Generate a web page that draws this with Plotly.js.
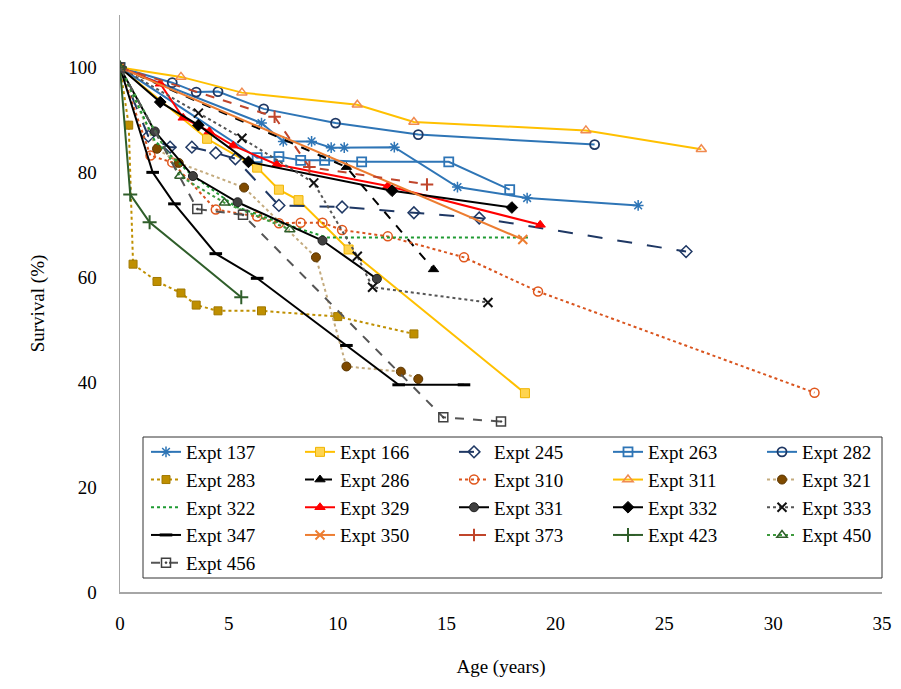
<!DOCTYPE html>
<html>
<head>
<meta charset="utf-8">
<script src="https://cdn.plot.ly/plotly-3.0.1.min.js"></script>
<style>html,body{margin:0;padding:0;background:#fff;}#chart{width:901px;height:689px;}</style>
</head>
<body>
<div id="chart"></div>
<script>
// Series data (Age in years, Survival in %)
const names = ["Expt 137","Expt 166","Expt 245","Expt 263","Expt 282","Expt 283","Expt 286","Expt 310","Expt 311","Expt 321","Expt 322","Expt 329","Expt 331","Expt 332","Expt 333","Expt 347","Expt 350","Expt 373","Expt 423","Expt 450","Expt 456"];

const x137 = [0, 6.5, 7.5, 8.8, 9.7, 10.3, 12.6, 15.5, 18.7, 23.8];
const y137 = [100, 89.4, 85.9, 85.9, 84.7, 84.7, 84.8, 77.2, 75.1, 73.7];
const x166 = [0, 4.0, 6.3, 7.3, 8.2, 10.5, 18.6];
const y166 = [100, 86.4, 80.9, 76.7, 74.7, 65.3, 37.9];
const x245 = [0, 1.3, 2.3, 3.3, 4.4, 5.3, 7.3, 10.2, 13.5, 16.5, 26.0];
const y245 = [100, 86.9, 84.8, 84.8, 83.7, 82.6, 73.7, 73.4, 72.3, 71.3, 64.9];
const x263 = [0, 6.3, 7.3, 8.3, 9.4, 11.1, 15.1, 17.9];
const y263 = [100, 82.8, 83.0, 82.3, 82.3, 82.0, 82.0, 76.7];
const x282 = [0, 2.4, 3.5, 4.5, 6.6, 9.9, 13.7, 21.8];
const y282 = [100, 97.1, 95.3, 95.4, 92.1, 89.4, 87.2, 85.3];
const x283 = [0, 0.4, 0.6, 1.7, 2.8, 3.5, 4.5, 6.5, 10.0, 13.5];
const y283 = [100, 89, 62.5, 59.2, 57.0, 54.7, 53.6, 53.6, 52.5, 49.2];
const x286 = [0, 10.4, 14.4];
const y286 = [100, 81.0, 61.5];
const x310 = [0, 1.4, 2.4, 4.4, 6.3, 7.3, 8.3, 9.3, 10.2, 12.3, 15.8, 19.2, 31.9];
const y310 = [100, 83.2, 81.9, 72.9, 71.6, 70.3, 70.4, 70.4, 69.0, 67.8, 63.8, 57.3, 38.0];
const x311 = [0, 2.8, 5.6, 10.9, 13.5, 21.4, 26.7];
const y311 = [100, 98.2, 95.2, 92.9, 89.6, 88.0, 84.4];
const x321 = [0, 1.7, 2.7, 5.7, 9.0, 10.4, 12.9, 13.7];
const y321 = [100, 84.5, 81.8, 77.1, 63.8, 43.0, 42.0, 40.6];
const x322 = [0, 1.6, 3.3, 5.3, 7.3, 9.5, 18.8];
const y322 = [100, 86, 79.5, 73.5, 70.5, 67.6, 67.6];
const x329 = [0, 1.85, 2.9, 4.1, 5.2, 7.2, 12.3, 19.3];
const y329 = [100, 96.9, 90.4, 87.8, 85.1, 81.5, 77.4, 70.0];
const x331 = [0, 1.6, 3.35, 5.4, 9.3, 11.8];
const y331 = [100, 87.8, 79.3, 74.3, 67.0, 59.7];
const x332 = [0, 1.85, 3.6, 5.9, 12.5, 18.0];
const y332 = [100, 93.4, 89.0, 82.0, 76.5, 73.3];
const x333 = [0, 3.6, 5.6, 8.9, 10.9, 11.6, 16.9];
const y333 = [100, 91.3, 86.5, 78.0, 64.0, 58.1, 55.2];
const x347 = [0, 1.5, 2.5, 4.4, 6.3, 10.4, 12.8, 15.8];
const y347 = [100, 80.0, 74.0, 64.5, 59.8, 47.0, 39.5, 39.5];
const x350 = [0, 18.5];
const y350 = [100, 67.2];
const x373 = [0, 7.1, 8.7, 14.1];
const y373 = [100, 90.6, 81.0, 77.7];
const x423 = [0, 0.47, 1.36, 5.57];
const y423 = [100, 75.8, 70.5, 56.2];
const x450 = [0, 2.75, 4.8, 7.8];
const y450 = [100, 79.3, 74.2, 69.1];
const x456 = [0, 3.55, 5.65, 14.85, 17.5];
const y456 = [100, 73.0, 71.9, 33.3, 32.5];

const xTicks = [0, 5, 10, 15, 20, 25, 30, 35];
const yTicks = [0, 20, 40, 60, 80, 100];

const xs = [x137,x166,x245,x263,x282,x283,x286,x310,x311,x321,x322,x329,x331,x332,x333,x347,x350,x373,x423,x450,x456];
const ys = [y137,y166,y245,y263,y282,y283,y286,y310,y311,y321,y322,y329,y331,y332,y333,y347,y350,y373,y423,y450,y456];

// styles: [lineColor, dash, symbol, markerColor, markerLineColor, size, markerLineWidth]
const styles = [
  ['#2E75B6','solid','asterisk-open','#2E75B6','#2E75B6',9,1.5],
  ['#FFC000','solid','square','#FFD44F','#F0B400',9,1],
  ['#1F3864','longdash','diamond-open','#1F3864','#1F3864',9,1.5],
  ['#2E75B6','solid','square-open','#2E75B6','#2E75B6',9,1.8],
  ['#2E75B6','solid','circle-open','#1F3864','#1F3864',9,1.8],
  ['#BF8F00','dot','square','#BF8F00','#A07800',8,1],
  ['#000000','dash','triangle-up','#000000','#000000',9,1],
  ['#D9541E','dot','circle-open','#E0561B','#E0561B',9,1.5],
  ['#FFC000','solid','triangle-up-open','#F08A50','#F08A50',9,1.5],
  ['#C4AB7E','dot','circle','#7F4A00','#5A3500',9,1],
  ['#1E9A32','dot','circle','rgba(0,0,0,0)','rgba(0,0,0,0)',0,0],
  ['#FF0000','solid','triangle-up','#FF0000','#FF0000',9,1],
  ['#000000','solid','circle','#404040','#222222',9,1],
  ['#000000','solid','diamond','#000000','#000000',9,1],
  ['#555555','dot','x-thin-open','#111111','#111111',9,2],
  ['#000000','solid','line-ew-open','#000000','#000000',9,3],
  ['#ED7D31','solid','x-thin-open','#ED7D31','#ED7D31',9,2],
  ['#C0452B','dash','cross-thin-open','#C0452B','#C0452B',9,2],
  ['#2F5E2A','solid','cross-thin-open','#2F5E2A','#2F5E2A',10,2],
  ['#3E9A3E','dot','triangle-up-open','#2F5E2A','#2F5E2A',9,1.5],
  ['#555555','dash','square-open-dot','#404040','#404040',9,1.5]
];

const legendIds = ['legend','legend2','legend3','legend4','legend5'];

const traces = names.map((n, i) => {
  const s = styles[i];
  return {
    type: 'scatter',
    mode: s[5] > 0 ? 'lines+markers' : 'lines',
    name: n,
    legend: legendIds[i % 5],
    x: xs[i],
    y: ys[i],
    line: {color: s[0], dash: s[1], width: 2},
    marker: {symbol: s[2], color: s[3], size: s[5], line: {color: s[4], width: s[6]}}
  };
});

// plot area geometry (pixels)
const ML = 120, MR = 19, MT = 15, MB = 97, W = 901, H = 689;
const PW = W - ML - MR, PH = H - MT - MB;
const px2x = p => (p - ML) / PW;
const py2y = p => (H - MB - p) / PH;

const legendFont = {family: 'Liberation Serif, Times New Roman, serif', size: 19, color: '#000'};
const colPitch = 154;
const layout = {
  width: W,
  height: H,
  margin: {l: ML, r: MR, t: MT, b: MB},
  paper_bgcolor: '#ffffff',
  plot_bgcolor: '#ffffff',
  font: {family: 'Liberation Serif, Times New Roman, serif', size: 19, color: '#000'},
  showlegend: true,
  xaxis: {
    range: [0, 35],
    tickvals: xTicks,
    ticktext: xTicks.map(String),
    showgrid: false,
    zeroline: false,
    showline: true,
    linecolor: '#A6A6A6',
    linewidth: 1.5,
    ticks: '',
    ticklabelstandoff: 14,
    tickfont: {size: 19},
    title: {text: 'Age (years)', font: {size: 19}, standoff: 26}
  },
  yaxis: {
    range: [0, 110],
    tickvals: yTicks,
    ticktext: yTicks.map(String),
    showgrid: false,
    zeroline: false,
    showline: true,
    linecolor: '#A6A6A6',
    linewidth: 1.5,
    ticks: '',
    ticklabelstandoff: 18,
    tickfont: {size: 19},
    title: {text: 'Survival (%)', font: {size: 19}, standoff: 18}
  },
  shapes: [{
    type: 'rect', xref: 'paper', yref: 'paper', layer: 'above',
    x0: px2x(143), x1: px2x(882), y0: py2y(578), y1: py2y(437),
    line: {color: '#333333', width: 1}, fillcolor: '#ffffff'
  }]
};

legendIds.forEach((id, k) => {
  layout[id] = {
    orientation: 'v',
    x: px2x(146 + colPitch * k),
    xanchor: 'left',
    y: py2y(433),
    yanchor: 'top',
    bgcolor: 'rgba(0,0,0,0)',
    borderwidth: 0,
    tracegroupgap: 0,
    traceorder: 'normal',
    font: legendFont
  };
});

Plotly.newPlot('chart', traces, layout, {displayModeBar: false, staticPlot: true});
</script>
</body>
</html>
